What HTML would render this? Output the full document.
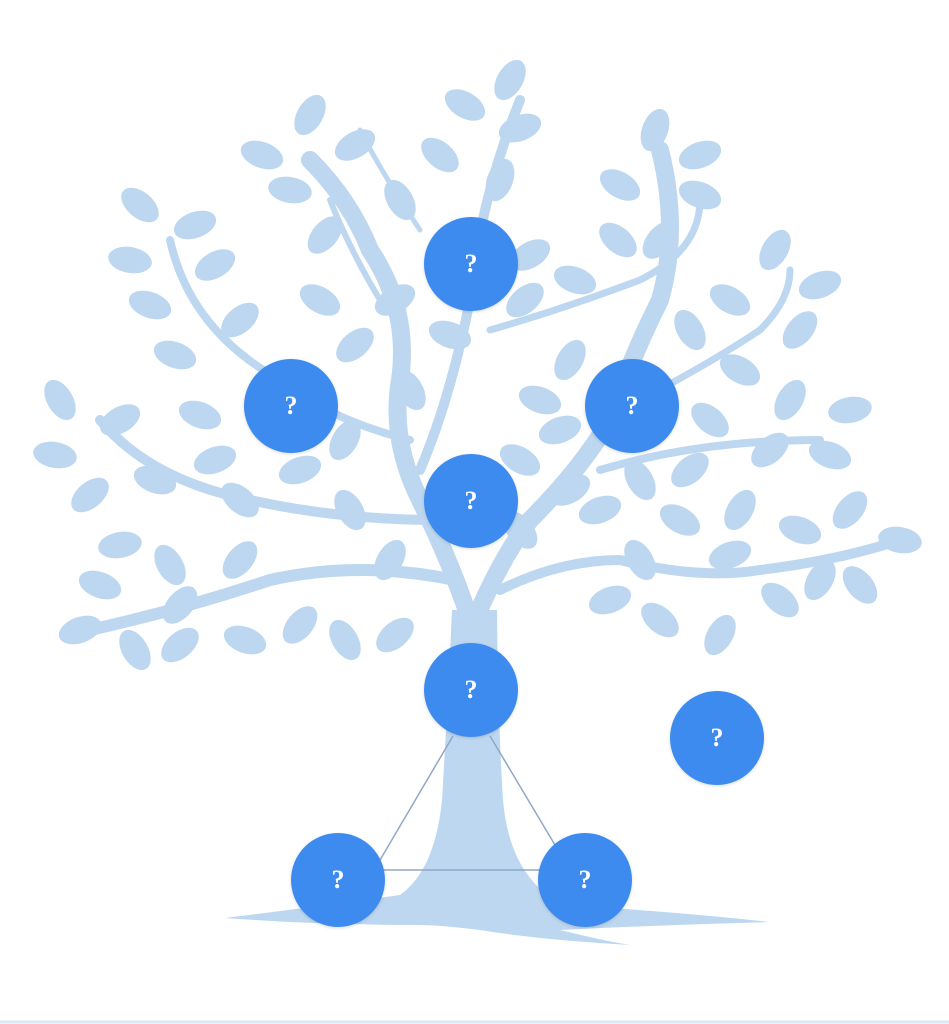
<!DOCTYPE html>
<html><head><style>
html,body{margin:0;padding:0;background:#fff;width:949px;height:1024px;overflow:hidden}
.c{position:absolute;width:94px;height:94px;border-radius:50%;background:#3d8bef;color:#fff;font:bold 26px "Liberation Serif",serif;display:flex;align-items:center;justify-content:center;box-shadow:0 1px 3px rgba(0,0,0,.15)}
</style></head><body>
<svg width="949" height="1024" style="position:absolute;left:0;top:0">
<g fill="#bdd7f0" stroke="none">
<path d="M225,918 Q330,905 400,895 Q435,870 442,800 Q448,700 452,610 L497,610 Q498,720 503,800 Q510,880 565,905 Q680,912 770,922 Q660,925 560,930 Q600,940 630,945 Q540,940 480,930 Q440,925 420,925 Q320,925 225,918Z"/>
</g>
<g fill="none" stroke="#bdd7f0" stroke-linecap="round">
<path d="M470,620 Q450,560 420,500 Q390,440 400,380 Q410,310 370,250 Q350,200 310,160" stroke-width="18"/>
<path d="M475,620 Q500,560 530,520 Q580,470 610,420 Q630,360 660,300 Q680,230 660,150" stroke-width="18"/>
<path d="M420,470 Q450,400 470,300 Q480,200 520,100" stroke-width="10"/>
<path d="M455,580 Q360,560 270,580 Q180,610 90,630" stroke-width="12"/>
<path d="M440,520 Q340,520 250,500 Q150,480 100,420" stroke-width="10"/>
<path d="M410,440 Q330,420 280,380 Q190,330 170,240" stroke-width="8"/>
<path d="M500,590 Q560,560 620,560 Q700,580 760,570 Q840,560 900,540" stroke-width="10"/>
<path d="M600,470 Q700,440 820,440" stroke-width="8"/>
<path d="M620,410 Q700,370 760,330 Q790,300 790,270" stroke-width="7"/>
<path d="M490,330 Q560,310 640,280 Q700,250 700,200" stroke-width="7"/>
<path d="M380,300 Q350,250 330,200" stroke-width="6"/>
<path d="M420,230 Q380,170 360,130" stroke-width="5"/>
</g>
<g fill="#bdd7f0" id="lv"></g>
</svg>
<script>
var pts=[[510,80,-60],[465,105,30],[520,128,-20],[440,155,40],[500,180,-70],[310,115,-60],[262,155,20],[355,145,-30],[290,190,10],[325,235,-50],[400,200,60],[655,130,-70],[700,155,-20],[620,185,30],[700,195,20],[660,240,-50],[618,240,40],[530,255,-30],[575,280,20],[525,300,-40],[140,205,40],[195,225,-20],[130,260,10],[215,265,-30],[150,305,20],[240,320,-40],[175,355,20],[320,300,30],[395,300,-30],[450,335,20],[410,390,60],[355,345,-40],[775,250,-60],[820,285,-20],[730,300,30],[800,330,-50],[690,330,60],[570,360,-60],[740,370,30],[790,400,-60],[850,410,-10],[710,420,40],[830,455,20],[770,450,-40],[60,400,60],[120,420,-30],[55,455,10],[200,415,20],[90,495,-40],[155,480,20],[215,460,-20],[240,500,40],[345,440,-60],[520,460,30],[560,430,-20],[570,490,-30],[640,480,60],[690,470,-40],[680,520,30],[740,510,-60],[800,530,20],[850,510,-50],[900,540,10],[120,545,-10],[170,565,60],[240,560,-50],[350,510,60],[390,560,-60],[600,510,-20],[640,560,60],[730,555,-20],[780,600,40],[820,580,-60],[860,585,50],[610,600,-20],[660,620,40],[720,635,-60],[80,630,-20],[135,650,60],[180,645,-40],[245,640,20],[300,625,-50],[345,640,60],[395,635,-40],[100,585,20],[180,605,-50],[540,400,20],[300,470,-20],[520,530,50]];
var g=document.getElementById('lv'),s='';
pts.forEach(function(p){s+='<ellipse cx="'+p[0]+'" cy="'+p[1]+'" rx="22" ry="13" transform="rotate('+p[2]+' '+p[0]+' '+p[1]+')"/>';});
g.innerHTML=s;
</script>
<svg width="949" height="1024" style="position:absolute;left:0;top:0">
<g stroke="#8fa8c4" stroke-width="1.5" fill="none">
<line x1="453" y1="736" x2="380" y2="860"/><line x1="490" y1="736" x2="555" y2="845"/><line x1="383" y1="870" x2="540" y2="870"/>
</g>
<line x1="0" y1="1022" x2="949" y2="1022" stroke="#dde8f4" stroke-width="3"/>
</svg>
<div class="c" style="left:424px;top:217px">?</div>
<div class="c" style="left:244px;top:359px">?</div>
<div class="c" style="left:585px;top:359px">?</div>
<div class="c" style="left:424px;top:454px">?</div>
<div class="c" style="left:424px;top:643px">?</div>
<div class="c" style="left:670px;top:691px">?</div>
<div class="c" style="left:291px;top:833px">?</div>
<div class="c" style="left:538px;top:833px">?</div>
</body></html>
